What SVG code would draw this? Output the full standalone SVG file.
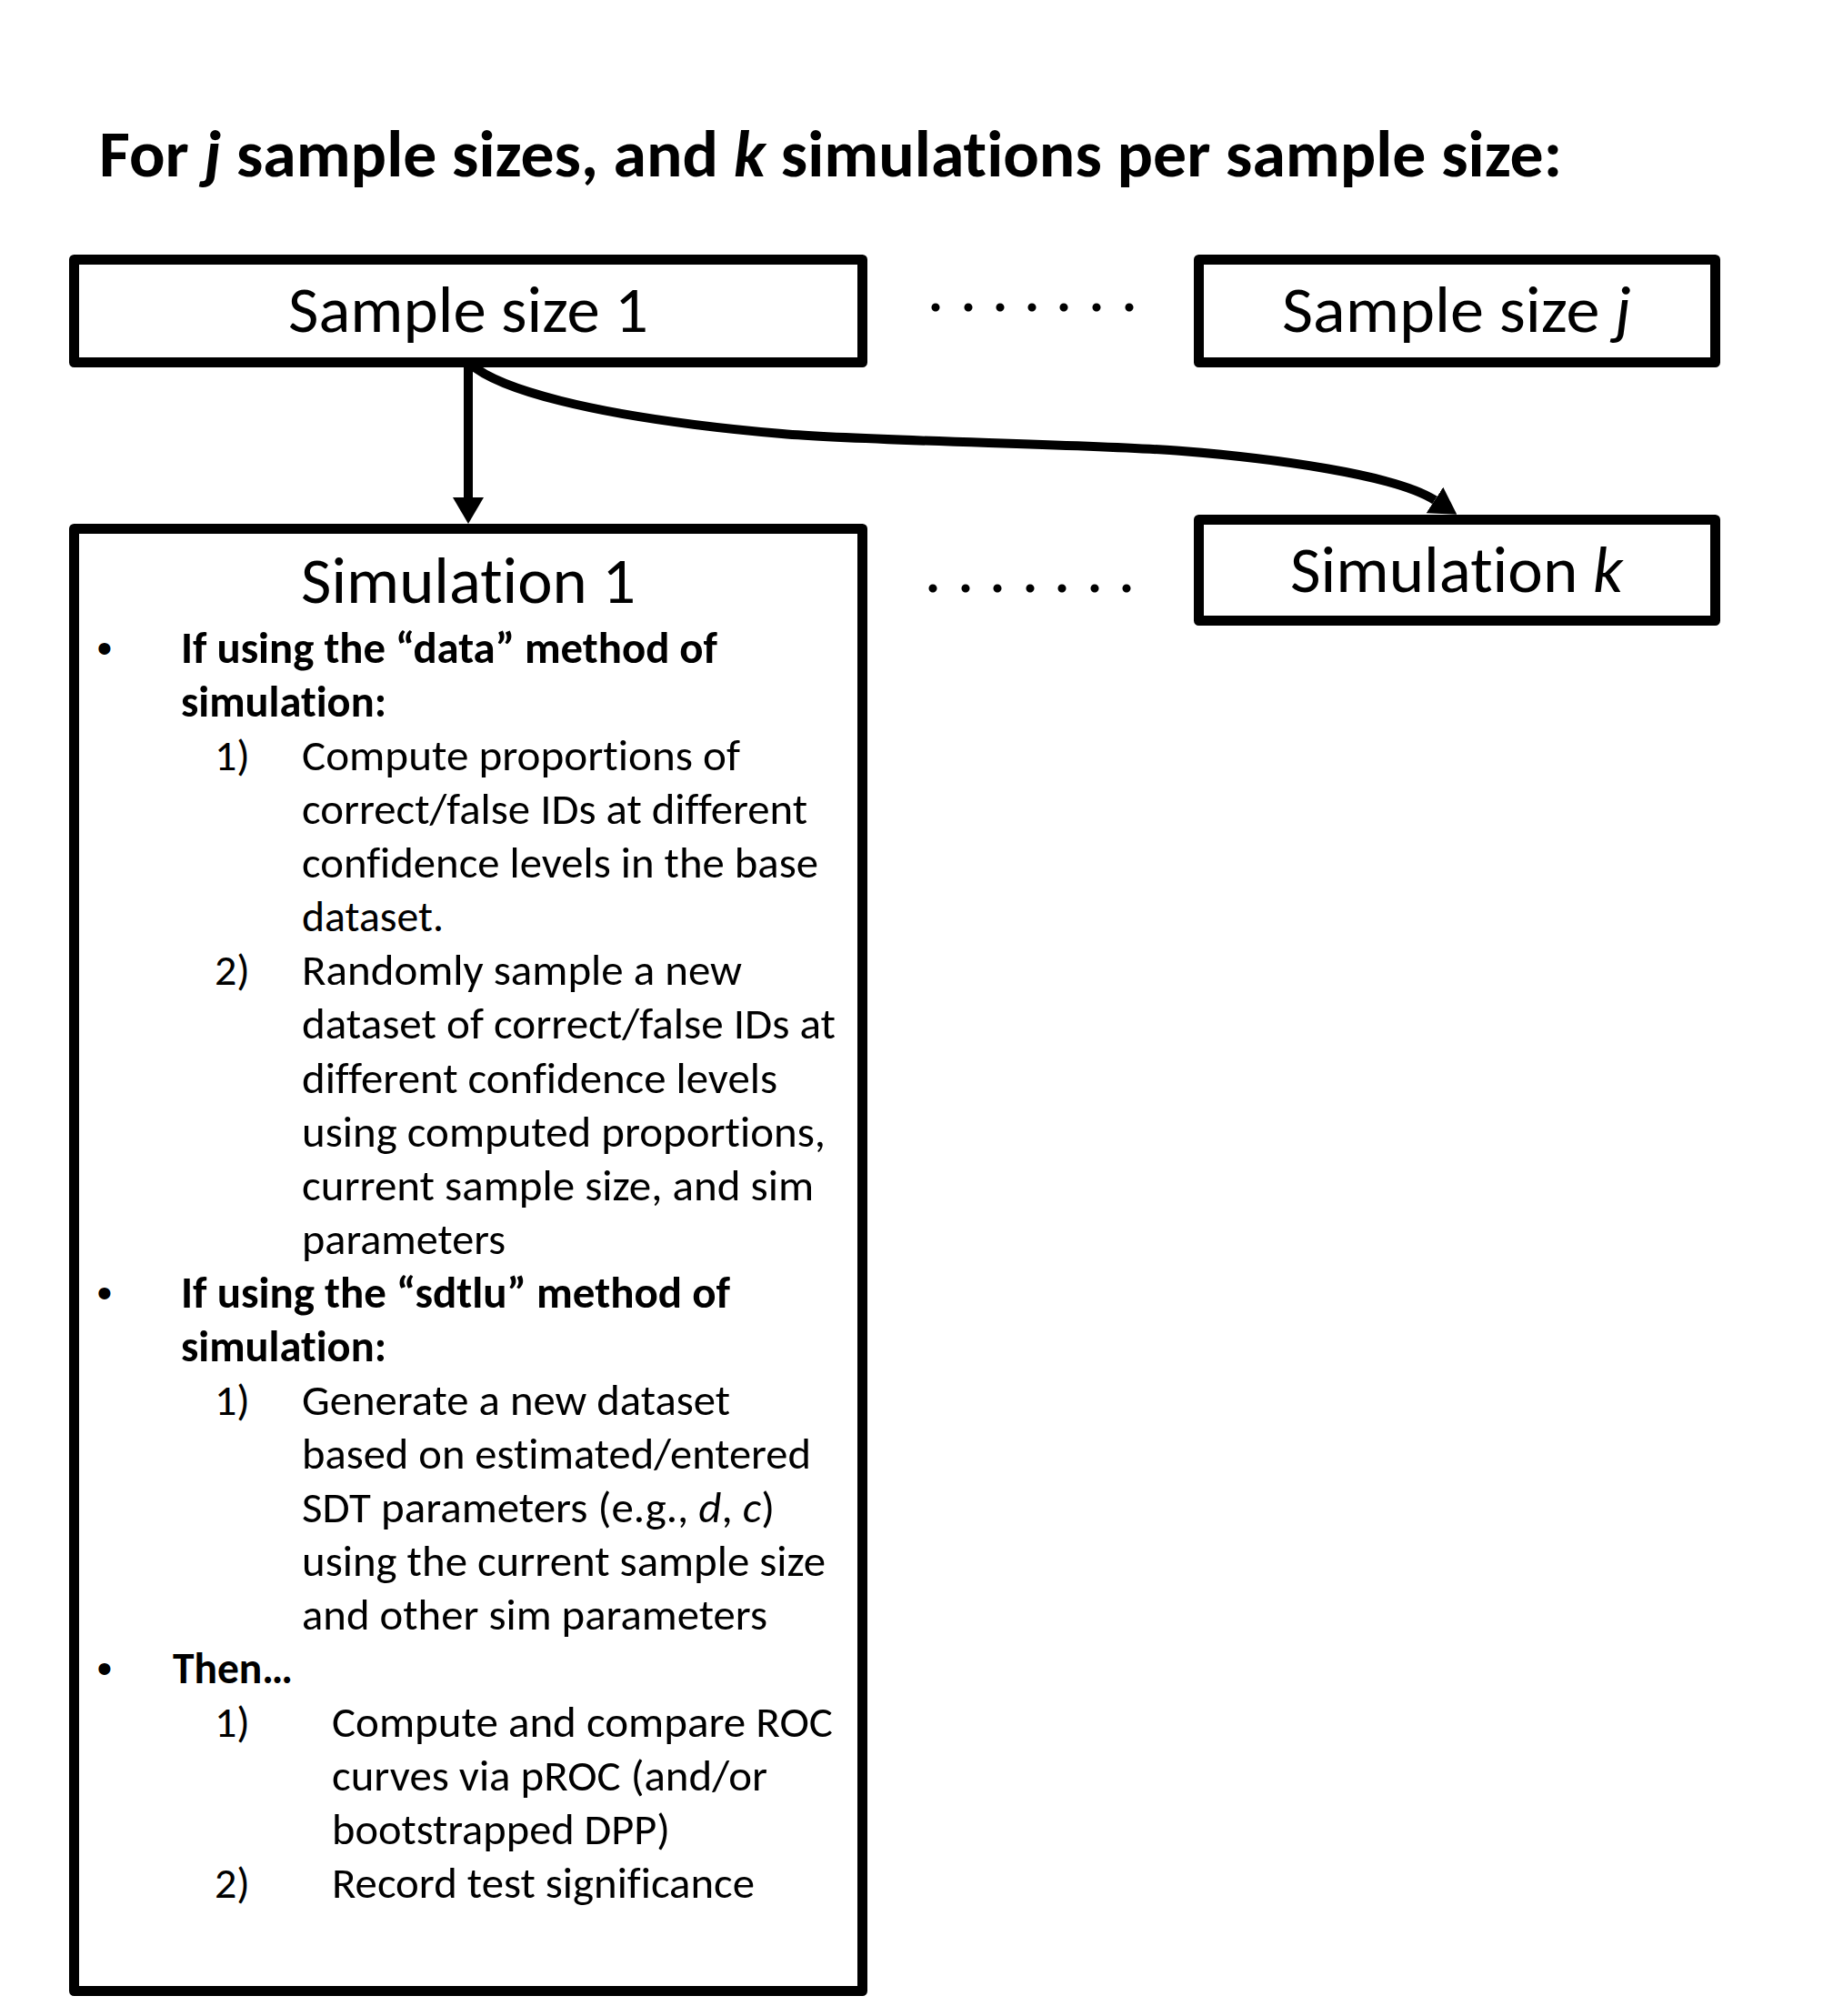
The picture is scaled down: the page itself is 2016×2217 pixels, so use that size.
<svg xmlns="http://www.w3.org/2000/svg" width="2016" height="2217" viewBox="0 0 2016 2217">
<style>
  .bg{fill:#fff}
  .box{fill:#fff;stroke:#000;stroke-width:11;stroke-linejoin:round}
  .t{font-family:Carlito,Lato,'Open Sans',sans-serif;fill:#000;font-variant-ligatures:none}
  .big{font-size:72px}
  .body{font-size:48px}
  .b{font-weight:bold}
  .i{font-style:italic}
  .bul{font-family:'Liberation Sans',Arial,sans-serif;font-size:48px;fill:#000}
  .dots{font-family:Lato,sans-serif;font-size:72px;fill:#000}
  .conn{fill:none;stroke:#000;stroke-width:10;stroke-linecap:butt}
</style>
<defs>
  <marker id="ah" markerUnits="userSpaceOnUse" viewBox="0 0 29 34" markerWidth="29" markerHeight="34" refX="0" refY="17" orient="auto">
    <path d="M0,0 L29,17 L0,34 z" fill="#000"/>
  </marker>
</defs>
<rect class="bg" x="0" y="0" width="2016" height="2217"/>

<text id="title" class="t b" font-size="72" x="109" y="194" textLength="1609" lengthAdjust="spacingAndGlyphs">For <tspan class="i">j</tspan> sample sizes, and <tspan class="i">k</tspan> simulations per sample size:</text>

<g id="sample1">
  <rect class="box" x="81.5" y="285.5" width="867" height="113"/>
  <text class="t big" x="515" y="365" text-anchor="middle" textLength="396" lengthAdjust="spacingAndGlyphs">Sample size 1</text>
</g>
<g id="samplej">
  <rect class="box" x="1318.5" y="285.5" width="568" height="113"/>
  <text class="t big" x="1602" y="365" text-anchor="middle" textLength="384" lengthAdjust="spacingAndGlyphs">Sample size <tspan class="i">j</tspan></text>
</g>
<g id="simk">
  <rect class="box" x="1318.5" y="571.5" width="568" height="111"/>
  <text class="t big" x="1602" y="651" text-anchor="middle" textLength="366" lengthAdjust="spacingAndGlyphs">Simulation <tspan class="i">k</tspan></text>
</g>

<g id="dots1">
  <text class="dots" text-anchor="middle" x="1029 1065 1100 1135 1170 1206 1242" y="342">.......</text>
</g>
<g id="dots2">
  <text class="dots" text-anchor="middle" x="1026 1062 1097 1133 1168 1204 1239" y="651">.......</text>
</g>

<g id="sim1">
  <rect class="box" x="81.5" y="581.5" width="867" height="1608"/>
  <text class="t big" x="515" y="663" text-anchor="middle" textLength="368" lengthAdjust="spacingAndGlyphs">Simulation 1</text>
  <g class="t body">
    <text class="bul" x="115" y="729" text-anchor="middle">•</text>
    <text class="b" x="199" y="729" textLength="590" lengthAdjust="spacingAndGlyphs">If using the “data” method of</text>
    <text class="b" x="199" y="788.1" textLength="226" lengthAdjust="spacingAndGlyphs">simulation:</text>
    <text x="236" y="847.1">1)</text>
    <text x="332" y="847.1" textLength="482" lengthAdjust="spacingAndGlyphs">Compute proportions of</text>
    <text x="332" y="906.2" textLength="556" lengthAdjust="spacingAndGlyphs">correct/false IDs at different</text>
    <text x="332" y="965.2" textLength="568" lengthAdjust="spacingAndGlyphs">confidence levels in the base</text>
    <text x="332" y="1024.3" textLength="156" lengthAdjust="spacingAndGlyphs">dataset.</text>
    <text x="236" y="1083.4">2)</text>
    <text x="332" y="1083.4" textLength="484" lengthAdjust="spacingAndGlyphs">Randomly sample a new</text>
    <text x="332" y="1142.4" textLength="587" lengthAdjust="spacingAndGlyphs">dataset of correct/false IDs at</text>
    <text x="332" y="1201.5" textLength="523" lengthAdjust="spacingAndGlyphs">different confidence levels</text>
    <text x="332" y="1260.5" textLength="576" lengthAdjust="spacingAndGlyphs">using computed proportions,</text>
    <text x="332" y="1319.6" textLength="563" lengthAdjust="spacingAndGlyphs">current sample size, and sim</text>
    <text x="332" y="1378.7" textLength="224" lengthAdjust="spacingAndGlyphs">parameters</text>
    <text class="bul" x="115" y="1437.7" text-anchor="middle">•</text>
    <text class="b" x="199" y="1437.7" textLength="604" lengthAdjust="spacingAndGlyphs">If using the “sdtlu” method of</text>
    <text class="b" x="199" y="1496.8" textLength="226" lengthAdjust="spacingAndGlyphs">simulation:</text>
    <text x="236" y="1555.8">1)</text>
    <text x="332" y="1555.8" textLength="471" lengthAdjust="spacingAndGlyphs">Generate a new dataset</text>
    <text x="332" y="1614.9" textLength="560" lengthAdjust="spacingAndGlyphs">based on estimated/entered</text>
    <text x="332" y="1674" textLength="520" lengthAdjust="spacingAndGlyphs">SDT parameters (e.g., <tspan class="i">d</tspan>, <tspan class="i">c</tspan>)</text>
    <text x="332" y="1733" textLength="576" lengthAdjust="spacingAndGlyphs">using the current sample size</text>
    <text x="332" y="1792.1" textLength="512" lengthAdjust="spacingAndGlyphs">and other sim parameters</text>
    <text class="bul" x="115" y="1851.1" text-anchor="middle">•</text>
    <text class="b" x="190" y="1851.1" textLength="132" lengthAdjust="spacingAndGlyphs">Then…</text>
    <text x="236" y="1910.2">1)</text>
    <text x="365" y="1910.2" textLength="551" lengthAdjust="spacingAndGlyphs">Compute and compare ROC</text>
    <text x="365" y="1969.3" textLength="479" lengthAdjust="spacingAndGlyphs">curves via pROC (and/or</text>
    <text x="365" y="2028.3" textLength="372" lengthAdjust="spacingAndGlyphs">bootstrapped DPP)</text>
    <text x="236" y="2087.4">2)</text>
    <text x="365" y="2087.4" textLength="465" lengthAdjust="spacingAndGlyphs">Record test significance</text>
  </g>
</g>

<g id="connectors">
  <path class="conn" d="M515 404 V547" marker-end="url(#ah)"/>
  <path class="conn" d="M517 400 C545 425, 640 458, 860 477 C960 485.6, 1200 488, 1300 496 C1400 504, 1535 522, 1578 550" marker-end="url(#ah)"/>
</g>
</svg>
